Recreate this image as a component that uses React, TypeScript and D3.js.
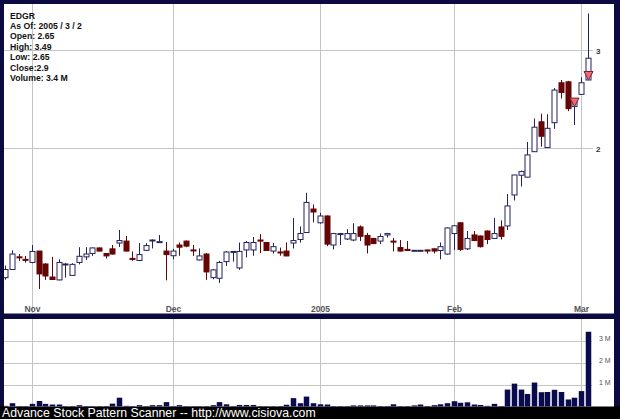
import * as d3 from "d3";
import { useEffect, useRef } from "react";

// trading days shown on the chart
const dates = [
  "2004-10-26", "2004-10-27", "2004-10-28", "2004-10-29",
  "2004-11-01", "2004-11-02", "2004-11-03", "2004-11-04", "2004-11-05",
  "2004-11-08", "2004-11-09", "2004-11-10", "2004-11-11", "2004-11-12",
  "2004-11-15", "2004-11-16", "2004-11-17", "2004-11-18", "2004-11-19",
  "2004-11-22", "2004-11-23", "2004-11-24", "2004-11-26",
  "2004-11-29", "2004-11-30",
  "2004-12-01", "2004-12-02", "2004-12-03",
  "2004-12-06", "2004-12-07", "2004-12-08", "2004-12-09", "2004-12-10",
  "2004-12-13", "2004-12-14", "2004-12-15", "2004-12-16", "2004-12-17",
  "2004-12-20", "2004-12-21", "2004-12-22", "2004-12-23",
  "2004-12-27", "2004-12-28", "2004-12-29", "2004-12-30", "2004-12-31",
  "2005-01-03", "2005-01-04", "2005-01-05", "2005-01-06", "2005-01-07",
  "2005-01-10", "2005-01-11", "2005-01-12", "2005-01-13", "2005-01-14",
  "2005-01-18", "2005-01-19", "2005-01-20", "2005-01-21",
  "2005-01-24", "2005-01-25", "2005-01-26", "2005-01-27", "2005-01-28",
  "2005-01-31",
  "2005-02-01", "2005-02-02", "2005-02-03", "2005-02-04",
  "2005-02-07", "2005-02-08", "2005-02-09", "2005-02-10", "2005-02-11",
  "2005-02-14", "2005-02-15", "2005-02-16", "2005-02-17", "2005-02-18",
  "2005-02-22", "2005-02-23", "2005-02-24", "2005-02-25",
  "2005-02-28", "2005-03-01", "2005-03-02",
];

const opens = [
  1.17, 1.21, 1.275, 1.262,
  1.246, 1.306, 1.238, 1.173, 1.159,
  1.235, 1.181, 1.246, 1.275, 1.293,
  1.323, 1.293, 1.318, 1.35, 1.361,
  1.267, 1.256, 1.31, 1.364,
  1.356, 1.306,
  1.281, 1.339, 1.361,
  1.312, 1.259, 1.29, 1.17, 1.167,
  1.25, 1.301, 1.218, 1.312, 1.312,
  1.367, 1.353, 1.306, 1.301,
  1.306, 1.35, 1.37, 1.41, 1.554,
  1.468, 1.51, 1.339, 1.399, 1.373,
  1.367, 1.443, 1.393, 1.376, 1.361,
  1.396, 1.361, 1.325, 1.315,
  1.31, 1.31, 1.312, 1.318, 1.309,
  1.29,
  1.404, 1.468, 1.318, 1.396,
  1.39, 1.419, 1.376, 1.443, 1.449,
  1.647, 1.787, 1.773, 1.97, 2.229,
  2.004, 2.221, 2.62, 2.63,
  2.374, 2.497, 2.65,
];

const highs = [
  1.23, 1.31, 1.29, 1.28,
  1.339, 1.306, 1.242, 1.275, 1.262,
  1.242, 1.242, 1.327, 1.327, 1.325,
  1.325, 1.295, 1.339, 1.425, 1.39,
  1.304, 1.35, 1.35, 1.37,
  1.396, 1.356,
  1.318, 1.353, 1.364,
  1.339, 1.32, 1.295, 1.213, 1.254,
  1.306, 1.306, 1.353, 1.361, 1.384,
  1.401, 1.356, 1.35, 1.325,
  1.353, 1.498, 1.446, 1.662, 1.584,
  1.53, 1.513, 1.408, 1.408, 1.43,
  1.465, 1.452, 1.408, 1.379, 1.404,
  1.408, 1.379, 1.367, 1.361,
  1.312, 1.312, 1.312, 1.32, 1.353,
  1.44,
  1.455, 1.471, 1.419, 1.419,
  1.393, 1.422, 1.498, 1.483, 1.654,
  1.79, 1.822, 2.051, 2.26, 2.305,
  2.3, 2.563, 2.65, 2.64,
  2.441, 2.68, 3.49,
];

const lows = [
  1.16, 1.21, 1.254, 1.245,
  1.242, 1.116, 1.159, 1.159, 1.157,
  1.17, 1.178, 1.236, 1.259, 1.28,
  1.304, 1.267, 1.287, 1.328, 1.304,
  1.254, 1.254, 1.306, 1.32,
  1.353, 1.157,
  1.262, 1.281, 1.327,
  1.28, 1.256, 1.159, 1.162, 1.145,
  1.228, 1.25, 1.208, 1.272, 1.281,
  1.295, 1.306, 1.293, 1.281,
  1.278, 1.32, 1.353, 1.408, 1.471,
  1.462, 1.333, 1.315, 1.339, 1.367,
  1.361, 1.361, 1.293, 1.344, 1.344,
  1.381, 1.304, 1.304, 1.306,
  1.306, 1.306, 1.293, 1.293, 1.262,
  1.287,
  1.312, 1.306, 1.312, 1.361,
  1.325, 1.344, 1.373, 1.37, 1.425,
  1.61, 1.706, 1.771, 1.968, 2.012,
  2.0, 2.165, 2.455, 2.33,
  2.2, 2.492, 2.65,
];

const closes = [
  1.21, 1.29, 1.27, 1.258,
  1.304, 1.188, 1.178, 1.161, 1.246,
  1.238, 1.236, 1.278, 1.29, 1.323,
  1.306, 1.28, 1.29, 1.364, 1.306,
  1.262, 1.287, 1.336, 1.367,
  1.358, 1.287,
  1.306, 1.327, 1.333,
  1.309, 1.28, 1.198, 1.208, 1.246,
  1.301, 1.304, 1.304, 1.353, 1.353,
  1.361, 1.309, 1.33, 1.298,
  1.28, 1.364, 1.404, 1.597, 1.535,
  1.51, 1.344, 1.404, 1.404, 1.404,
  1.404, 1.388, 1.339, 1.347, 1.387,
  1.404, 1.359, 1.306, 1.309,
  1.31, 1.31, 1.306, 1.306, 1.33,
  1.437,
  1.45, 1.315, 1.376, 1.364,
  1.33, 1.37, 1.404, 1.388, 1.574,
  1.789, 1.814, 1.944, 2.18, 2.1,
  2.17, 2.542, 2.517, 2.354,
  2.428, 2.62, 2.9,
];

// thousands of shares
const volumes = [
  30, 150, 20, 20,
  120, 250, 120, 90, 90,
  20, 20, 60, 20, 20,
  20, 20, 130, 400, 30,
  20, 60, 20, 60,
  60, 200,
  20, 60, 20,
  20, 20, 20, 60, 200,
  100, 20, 70, 70, 70,
  20, 20, 20, 20,
  80, 380, 150, 450, 150,
  100, 90, 20, 20, 20,
  50, 50, 50, 50, 20,
  20, 100, 20, 20,
  50, 90, 20, 60, 100,
  150,
  240, 170, 190, 90,
  70, 30, 120, 20, 770,
  1040, 770, 570, 1090, 650,
  660, 760, 660, 320,
  400, 700, 3400,
];

const signalDates = ["2005-02-28", "2005-03-02"];
const signalPrices = [2.374, 2.65];

const priceTicks = [2, 3];
const volumeTicks = [1, 2, 3]; // millions
const monthLabels = ["Nov", "Dec", "2005", "Feb", "Mar"];

const infoLines = [
  "EDGR",
  "As Of: 2005 / 3 / 2",
  "Open: 2.65",
  "High: 3.49",
  "Low: 2.65",
  "Close:2.9",
  "Volume: 3.4 M",
];

const footer = "Advance Stock Pattern Scanner -- http://www.cisiova.com";

const W = 620;
const H = 419;
const FONT = "'Liberation Sans', Arial, sans-serif";

const App = () => {
  const svgRef = useRef<SVGSVGElement>(null);

  useEffect(() => {
    const svg = d3.select(svgRef.current);
    svg.selectAll("*").remove();

    const pricePanel = { x: 4, y: 4, w: 610, h: 309.5 };
    const volPanel = { x: 4, y: 319, w: 610, h: 87.5 };

    const x = d3.scalePoint<string>().domain(dates).range([5.2, 587.6]);
    const y = d3.scaleLog().domain([1.0087, 3.629]).range([313.5, 4]);
    const yv = d3.scaleLinear().domain([0, 3.98]).range([406.5, 319]);

    // frame
    svg.append("rect").attr("width", W).attr("height", H).attr("fill", "#0b0b42");
    svg.append("rect").attr("y", 406).attr("width", W).attr("height", H - 406).attr("fill", "#000");

    svg
      .append("rect")
      .attr("x", pricePanel.x)
      .attr("y", pricePanel.y)
      .attr("width", pricePanel.w)
      .attr("height", pricePanel.h)
      .attr("fill", "#fff");
    svg
      .append("rect")
      .attr("x", volPanel.x)
      .attr("y", volPanel.y)
      .attr("width", volPanel.w)
      .attr("height", volPanel.h)
      .attr("fill", "#fff");

    const defs = svg.append("defs");
    defs
      .append("clipPath")
      .attr("id", "price-clip")
      .append("rect")
      .attr("x", pricePanel.x)
      .attr("y", pricePanel.y)
      .attr("width", pricePanel.w)
      .attr("height", pricePanel.h);

    // month gridlines: first trading day of each new month
    const monthStarts = dates.filter(
      (d, i) => i > 0 && d.slice(5, 7) !== dates[i - 1].slice(5, 7)
    );
    const grid = "#c4c4c4";

    monthStarts.forEach((d, i) => {
      const gx = Math.round(x(d)!) + 0.5;
      svg
        .append("line")
        .attr("x1", gx)
        .attr("x2", gx)
        .attr("y1", pricePanel.y)
        .attr("y2", pricePanel.y + pricePanel.h)
        .attr("stroke", grid);
      svg
        .append("line")
        .attr("x1", gx)
        .attr("x2", gx)
        .attr("y1", volPanel.y)
        .attr("y2", volPanel.y + volPanel.h)
        .attr("stroke", grid);
      svg
        .append("text")
        .attr("x", gx)
        .attr("y", 311.5)
        .attr("text-anchor", "middle")
        .attr("font-family", FONT)
        .attr("font-weight", "bold")
        .attr("font-size", 8.5)
        .attr("fill", "#555")
        .text(monthLabels[i]);
    });

    priceTicks.forEach((t) => {
      const gy = Math.round(y(t)) + 0.5;
      svg
        .append("line")
        .attr("x1", pricePanel.x)
        .attr("x2", 593)
        .attr("y1", gy)
        .attr("y2", gy)
        .attr("stroke", grid);
      svg
        .append("text")
        .attr("x", 596)
        .attr("y", gy + 3)
        .attr("font-family", FONT)
        .attr("font-weight", "bold")
        .attr("font-size", 8)
        .attr("fill", "#333")
        .text(String(t));
    });

    volumeTicks.forEach((t) => {
      const gy = Math.round(yv(t)) + 0.5;
      svg
        .append("line")
        .attr("x1", volPanel.x)
        .attr("x2", 592)
        .attr("y1", gy)
        .attr("y2", gy)
        .attr("stroke", grid);
      svg
        .append("text")
        .attr("x", 599)
        .attr("y", gy - 1)
        .attr("font-family", FONT)
        .attr("font-size", 7)
        .attr("fill", "#555")
        .text(`${t} M`);
    });

    // candles
    const upColor = "#23235e";
    const downColor = "#660505";
    const bodyW = 5;
    const candles = svg.append("g").attr("clip-path", "url(#price-clip)");

    dates.forEach((d, i) => {
      const cx = Math.round(x(d)!) + 0.5;
      const up = closes[i] >= opens[i];
      const col = up ? upColor : downColor;
      candles
        .append("line")
        .attr("x1", cx)
        .attr("x2", cx)
        .attr("y1", y(highs[i]))
        .attr("y2", y(lows[i]))
        .attr("stroke", col)
        .attr("stroke-width", 1);
      const top = y(Math.max(opens[i], closes[i]));
      const bot = y(Math.min(opens[i], closes[i]));
      candles
        .append("rect")
        .attr("x", cx - bodyW / 2)
        .attr("y", top)
        .attr("width", bodyW)
        .attr("height", Math.max(bot - top, 1))
        .attr("fill", up ? "#fff" : downColor)
        .attr("stroke", col)
        .attr("stroke-width", 1);
    });

    // signal markers
    signalDates.forEach((d, i) => {
      const cx = Math.round(x(d)!) + 0.5;
      const ty = y(signalPrices[i]);
      candles
        .append("path")
        .attr("d", `M${cx - 4.5},${ty - 8.5}L${cx + 4.5},${ty - 8.5}L${cx},${ty}Z`)
        .attr("fill", "#f06878")
        .attr("stroke", "#7a2630")
        .attr("stroke-width", 1);
    });

    // volume bars
    dates.forEach((d, i) => {
      const cx = Math.round(x(d)!) + 0.5;
      const top = yv(volumes[i] / 1000);
      svg
        .append("rect")
        .attr("x", cx - 2.75)
        .attr("y", top)
        .attr("width", 5.5)
        .attr("height", yv(0) - top)
        .attr("fill", "#0a0a4e");
    });

    // info block
    infoLines.forEach((line, i) => {
      svg
        .append("text")
        .attr("x", 10)
        .attr("y", 18.5 + i * 10.4)
        .attr("font-family", FONT)
        .attr("font-weight", "bold")
        .attr("font-size", 8.7)
        .attr("fill", "#111")
        .text(line);
    });

    svg
      .append("text")
      .attr("x", 2)
      .attr("y", 417)
      .attr("font-family", FONT)
      .attr("font-size", 12.3)
      .attr("fill", "#fff")
      .text(footer);
  }, []);

  return (
    <svg
      ref={svgRef}
      width={W}
      height={H}
      style={{ position: "absolute", left: 0, top: 0, display: "block" }}
    />
  );
};

export default App;
